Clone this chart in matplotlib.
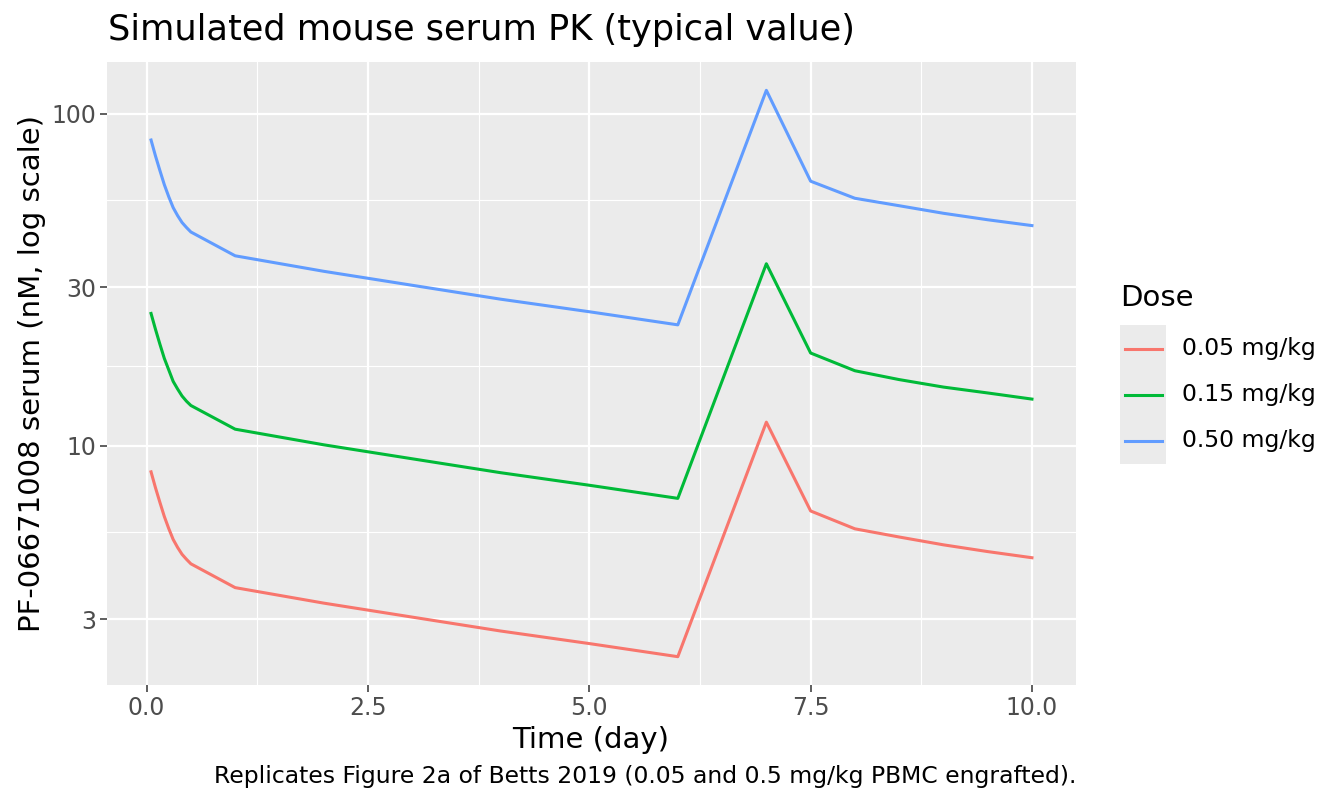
import numpy as np
import matplotlib
matplotlib.use('Agg')
import matplotlib.pyplot as plt
from matplotlib.patches import Rectangle
from matplotlib.lines import Line2D
from matplotlib.ticker import FixedLocator, NullFormatter

# sampling times (day)
time = [0.05, 0.1, 0.15, 0.2, 0.25, 0.3, 0.35, 0.4, 0.45, 0.5,
        1, 2, 3, 4, 5, 6,
        7, 7.5, 8, 8.5, 9, 9.5, 10]

# serum concentration (nM)
conc_005 = [8.33, 7.46, 6.74, 6.11, 5.62, 5.21, 4.93, 4.70, 4.54, 4.40,
            3.73, 3.35, 3.04, 2.76, 2.53, 2.31,
            11.76, 6.35, 5.61, 5.30, 5.02, 4.79, 4.59]
conc_015 = [25.0, 22.4, 20.2, 18.3, 16.9, 15.6, 14.8, 14.1, 13.6, 13.2,
            11.2, 10.05, 9.12, 8.28, 7.59, 6.93,
            35.3, 19.0, 16.8, 15.8, 15.0, 14.4, 13.8]
conc_050 = [83.3, 74.6, 67.4, 61.1, 56.2, 52.1, 49.3, 47.0, 45.4, 44.0,
            37.3, 33.5, 30.4, 27.6, 25.3, 23.1,
            117.6, 62.6, 55.6, 52.8, 50.1, 47.9, 46.0]

dose_labels = ['0.05 mg/kg', '0.15 mg/kg', '0.50 mg/kg']
dose_colors = ['#F8766D', '#00BA38', '#619CFF']
series = [conc_005, conc_015, conc_050]

y_breaks = [3, 10, 30, 100]
x_breaks = [0.0, 2.5, 5.0, 7.5, 10.0]

W, H = 1344, 806
fig = plt.figure(figsize=(W / 100, H / 100), dpi=100)
ax = fig.add_axes([107 / W, 1 - 685 / H, (1076 - 107) / W, (685 - 62) / H])
ax.set_facecolor('#EBEBEB')
for s in ax.spines.values():
    s.set_visible(False)

for conc, col in zip(series, dose_colors):
    ax.plot(time, conc, color=col, lw=2.2, zorder=3)

# ggplot-like 5% expansion (log space for y)
ax.set_yscale('log')
allc = np.concatenate([np.array(s) for s in series])
lo, hi = np.log10(allc.min()), np.log10(allc.max())
pad = 0.05 * (hi - lo)
ax.set_ylim(10 ** (lo - pad), 10 ** (hi + pad))
xpad = 0.05 * (max(time) - min(time))
ax.set_xlim(min(time) - xpad, max(time) + xpad)

ax.yaxis.set_major_locator(FixedLocator(y_breaks))
ax.set_yticklabels([str(v) for v in y_breaks])
ax.yaxis.set_minor_locator(FixedLocator([np.sqrt(a * b) for a, b in zip(y_breaks[:-1], y_breaks[1:])]))
ax.yaxis.set_minor_formatter(NullFormatter())
ax.set_xticks(x_breaks)
ax.set_xticklabels([f'{v:.1f}' for v in x_breaks])
ax.xaxis.set_minor_locator(FixedLocator([(a + b) / 2 for a, b in zip(x_breaks[:-1], x_breaks[1:])]))

ax.tick_params(which='major', length=5, width=1.1, color='#333333', labelcolor='#4D4D4D',
               labelsize=17, pad=3)
ax.tick_params(which='minor', length=0)
ax.grid(which='major', color='white', lw=1.6)
ax.grid(which='minor', color='white', lw=0.8)
ax.set_axisbelow(True)

fig.text(108 / W, 1 - 30 / H, 'Simulated mouse serum PK (typical value)', fontsize=25.3,
         ha='left', va='center')
fig.text(591 / W, 1 - 740 / H, 'Time (day)', fontsize=21, ha='center', va='center')
fig.text(32 / W, 1 - 373 / H, 'PF-06671008 serum (nM, log scale)', fontsize=21,
         ha='center', va='center', rotation=90)
fig.text(1076 / W, 1 - 777 / H,
         'Replicates Figure 2a of Betts 2019 (0.05 and 0.5 mg/kg PBMC engrafted).',
         fontsize=16.9, ha='right', va='center')

# legend
fig.text(1120 / W, 1 - 298 / H, 'Dose', fontsize=21, ha='left', va='center')
fig.patches.append(Rectangle((1120 / W, 1 - 464 / H), 46 / W, 139 / H,
                             transform=fig.transFigure, facecolor='#EBEBEB', edgecolor='none'))
for i, (lab, col) in enumerate(zip(dose_labels, dose_colors)):
    yk = 1 - (349 + 46 * i) / H
    fig.lines.append(Line2D([1125 / W, 1162 / W], [yk, yk], transform=fig.transFigure,
                            color=col, lw=2.2))
    fig.text(1182 / W, yk, lab, fontsize=16.9, ha='left', va='center')

fig.savefig('out.png', dpi=100)
